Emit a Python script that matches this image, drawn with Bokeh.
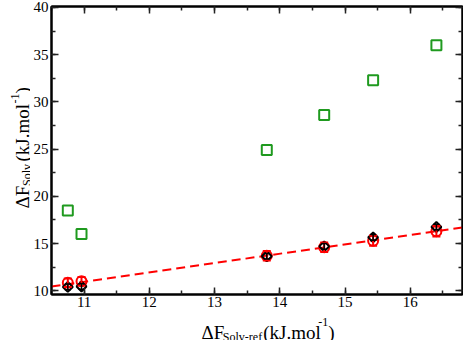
import numpy as np
from bokeh.plotting import figure
from bokeh.layouts import row, column
from bokeh.models import (ColumnDataSource, Whisker, TeeHead, LinearAxis, SingleIntervalTicker,
                          Range1d, Label, CustomJSTickFormatter)
from bokeh.embed import file_html
from bokeh.resources import INLINE

# ---- data ----
x_ref = [10.75, 10.96, 13.80, 14.68, 15.43, 16.40]
green_vals = [18.5, 16.0, 24.9, 28.6, 32.3, 36.0]
red_vals = [10.85, 11.0, 13.7, 14.6, 15.3, 16.3]
red_err = [0.45, 0.45, 0.5, 0.5, 0.55, 0.55]
black_vals = [10.4, 10.45, 13.65, 14.7, 15.65, 16.75]
black_err = [0.3, 0.3, 0.3, 0.3, 0.3, 0.3]
fit_slope = 0.99
fit_intercept = 0.06
x_range = (10.5, 16.8)
y_range = (9.6, 40.1)

FONT = "Liberation Serif"
W, H = 463, 340
YW = 30            # width of the y-title strip
MH = 313           # height of main figure
FL, FB = 49, 294   # frame left / bottom in page pixels

p = figure(width=W - YW, height=MH, output_backend="svg", toolbar_location=None,
           x_range=Range1d(*x_range), y_range=Range1d(*y_range),
           min_border_left=FL - YW, min_border_right=1, min_border_top=6,
           min_border_bottom=MH - FB, x_axis_type=None, y_axis_type=None)
p.grid.visible = False
p.outline_line_color = "black"
p.outline_line_width = 2
p.background_fill_color = "white"
p.border_fill_color = "white"

def style_axis(ax, show_labels, standoff=3):
    ax.axis_line_color = "black"
    ax.axis_line_width = 2
    ax.major_tick_in = 7
    ax.major_tick_out = 0
    ax.minor_tick_in = 4
    ax.minor_tick_out = 0
    ax.major_tick_line_color = "#222222"
    ax.major_tick_line_width = 1.5
    ax.minor_tick_line_color = "#222222"
    ax.minor_tick_line_width = 1.5
    if show_labels:
        ax.major_label_text_font = "'Liberation Serif', serif"
        ax.major_label_text_font_size = "15px"
        ax.major_label_text_color = "black"
        ax.major_label_standoff = standoff
    else:
        ax.formatter = CustomJSTickFormatter(code="return ''")
        ax.major_label_standoff = 0

xt = lambda: SingleIntervalTicker(interval=1, num_minor_ticks=2)
yt = lambda: SingleIntervalTicker(interval=5, num_minor_ticks=2)

bx = LinearAxis(ticker=xt()); style_axis(bx, True, 2); p.add_layout(bx, "below")
ly = LinearAxis(ticker=yt()); style_axis(ly, True, 3); p.add_layout(ly, "left")
tx = LinearAxis(ticker=xt()); style_axis(tx, False); p.add_layout(tx, "above")
ry = LinearAxis(ticker=yt()); style_axis(ry, False); p.add_layout(ry, "right")

# fit line
fx = list(x_range)
fy = [fit_slope * v + fit_intercept for v in fx]
p.line(fx, fy, line_color="red", line_width=2, line_dash="9 5")

# green squares
p.scatter(x_ref, green_vals, marker="square", size=10, line_color="#1f9a1f",
          line_width=2, fill_color=None)

# red circles with error bars
rsrc = ColumnDataSource(dict(x=x_ref, y=red_vals,
                             lo=[a - b for a, b in zip(red_vals, red_err)],
                             hi=[a + b for a, b in zip(red_vals, red_err)]))
p.add_layout(Whisker(source=rsrc, base="x", upper="hi", lower="lo", line_color="red",
                     line_width=2, level="glyph",
                     upper_head=TeeHead(size=8, line_color="red", line_width=2),
                     lower_head=TeeHead(size=8, line_color="red", line_width=2)))
p.scatter("x", "y", source=rsrc, marker="circle", size=10, line_color="red",
          line_width=2, fill_color=None)

# black diamonds with error bars
ksrc = ColumnDataSource(dict(x=x_ref, y=black_vals,
                             lo=[a - b for a, b in zip(black_vals, black_err)],
                             hi=[a + b for a, b in zip(black_vals, black_err)]))
p.add_layout(Whisker(source=ksrc, base="x", upper="hi", lower="lo", line_color="black",
                     line_width=1.5, level="glyph",
                     upper_head=TeeHead(size=6, line_color="black", line_width=1.5),
                     lower_head=TeeHead(size=6, line_color="black", line_width=1.5)))
p.scatter("x", "y", source=ksrc, marker="square", angle=np.pi / 4, size=7,
          line_color="black", line_width=2, fill_color=None)

# ---- title strips (separate small figures so texts are not clipped) ----
def strip(w, h):
    f = figure(width=w, height=h, output_backend="svg", toolbar_location=None,
               x_range=Range1d(0, w), y_range=Range1d(0, h),
               min_border=0, x_axis_type=None, y_axis_type=None)
    f.grid.visible = False
    f.outline_line_color = None
    f.background_fill_color = "white"
    f.border_fill_color = "white"
    return f

yfig = strip(YW, H)
xfig = strip(W - YW, H - MH)

def lab(fig, ox, text, X, Y, size, angle=0.0):
    # X, Y: page pixel position of the text anchor (left end of baseline)
    fig.add_layout(Label(x=X - ox, y=H - Y, text=text, text_font=FONT,
                         text_font_size=f"{size}px", text_color="black",
                         text_align="left", text_baseline="alphabetic", angle=angle))

# x title
lab(xfig, YW, "\u0394F", 188, 332, 19)
lab(xfig, YW, "Solv-ref", 210.5, 336, 12)
lab(xfig, YW, "(kJ.mol", 253, 332, 19)
lab(xfig, YW, "-1", 311, 321, 12)
lab(xfig, YW, ")", 321.5, 332, 19)

# y title (rotated, reading upward)
a = np.pi / 2
lab(yfig, 0, "\u0394F", 22, 208, 19, a)
lab(yfig, 0, "Solv", 26, 185.5, 12, a)
lab(yfig, 0, "(kJ.mol", 22, 161, 19, a)
lab(yfig, 0, "-1", 14, 103, 12, a)
lab(yfig, 0, ")", 22, 93, 19, a)

layout = row(yfig, column(p, xfig, spacing=0), spacing=0)
open("out.html", "w").write(file_html(layout, INLINE))
